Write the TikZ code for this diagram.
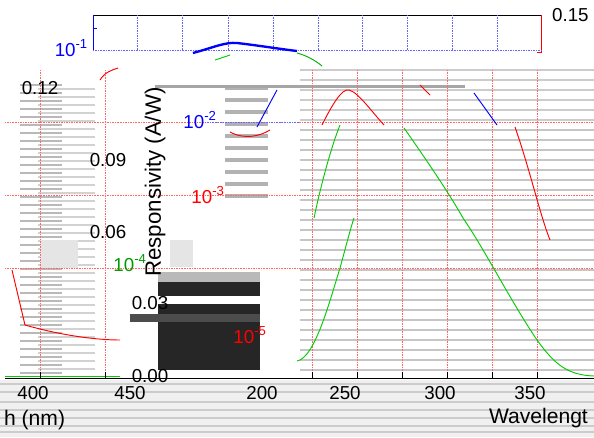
\documentclass[tikz,border=0pt]{standalone}
\usepackage{fontspec}
\setmainfont{Liberation Sans}
\usetikzlibrary{calc}

\begin{document}
\begin{tikzpicture}[x=0.03cm,y=-0.03cm,
	ticklab/.style={font=\fontsize{16}{18}\selectfont},
	bgrid/.style={blue!60,densely dotted},
	rgrid/.style={red!60,densely dotted},
	stripe/.style={gray!55,line width=1.3pt}]
	\useasboundingbox (0,0) rectangle (594,437);
	% glitch texture
	\fill[gray!12] (0,380) rectangle (594,437);
	\foreach \y in {384,392,402,410,418,426,432} \draw[gray!40,line width=1pt] (0,\y) -- (594,\y);
	\foreach \y in {85,93,...,375} \draw[stripe] (20,\y) -- (62,\y);
	\foreach \y in {89,97,...,375} \draw[gray!35,line width=1pt] (38,\y) -- (95,\y);
	\foreach \y in {88,100,...,200} \draw[gray!60,line width=4pt] (225,\y) -- (268,\y);
	\foreach \y in {130,140,...,370} \draw[gray!45,line width=1.2pt] (300,\y) -- (594,\y);
	\foreach \y in {70,80,...,120} \draw[gray!40,line width=1.2pt] (300,\y) -- (594,\y);
	\fill[gray!70] (155,85) rectangle (465,88);
	\fill[gray!20] (40,240) rectangle (78,268);
	\fill[gray!20] (170,240) rectangle (193,267);
	% black block
	\fill[black!85] (158,282) rectangle (260,370);
	\fill[gray!55] (158,272) rectangle (260,282);
	\fill[black!70] (130,314) rectangle (260,322);
	\fill[white] (158,296) rectangle (260,304);
	% top panel
	\draw[thick] (93,15) -- (541,15);
	\draw[blue,thick] (93,15) -- (93,50);
	\draw[blue] (93,28) -- (97,28);
	\draw[red,thick] (541,15) -- (541,52) -- (537,52);
	\draw[bgrid] (93,50) -- (541,50);
	\foreach \x in {137,182,228,273,318,362,407,452,497} \draw[bgrid] (\x,15) -- (\x,50);
	\node[blue,ticklab,left] at (92,48) {10\textsuperscript{-1}};
	\node[ticklab,right] at (548,15) {0.15};
	\draw[blue,line width=2pt] (193,53) .. controls (215,47) and (225,42) .. (237,43) .. controls (255,45) and (280,49) .. (297,51);
	\draw[green!70!black,thick] (297,53) .. controls (305,55) and (315,60) .. (322,66);
	% lower panel grid
	\foreach \y in {122,195,268} \draw[rgrid] (5,\y) -- (594,\y);
	\draw[bgrid] (205,122) -- (300,122);
	\foreach \x in {40,105,312,357,402,447,492,537} \draw[rgrid] (\x,70) -- (\x,378);
	% left axis labels
	\node[ticklab] at (40,88) {0.12};
	\node[ticklab] at (108,160) {0.09};
	\node[ticklab] at (108,232) {0.06};
	\node[ticklab] at (150,303) {0.03};
	\node[ticklab] at (150,376) {0.00};
	\node[font=\fontsize{19}{21}\selectfont,rotate=90] at (155,182) {Responsivity (A/W)};
	\node[blue,ticklab] at (200,120) {10\textsuperscript{-2}};
	\node[red,ticklab] at (208,195) {10\textsuperscript{-3}};
	\node[green!60!black,ticklab] at (130,263) {10\textsuperscript{-4}};
	\node[red,ticklab] at (250,335) {10\textsuperscript{-5}};
	% curves
	\draw[red,thick] (322,125) .. controls (332,105) and (342,88) .. (349,90) .. controls (358,92) and (372,112) .. (384,125);
	\draw[red,thick] (230,132) .. controls (245,140) and (260,136) .. (270,130);
	\draw[red,thick] (100,80) .. controls (105,72) and (112,70) .. (118,68);
	\draw[red,thick] (420,85) -- (430,95);
	\draw[blue,thick] (277,90) -- (257,127);
	\draw[blue,thick] (474,93) -- (497,125);
	\draw[red,thick] (515,127) .. controls (530,170) and (540,215) .. (550,240);
	\draw[red,thick] (12,270) -- (25,325) .. controls (60,335) and (95,340) .. (120,340);
	\draw[green!80!black,thick] (314,218) .. controls (322,180) and (332,145) .. (340,125);
	\draw[green!80!black,thick] (404,128) .. controls (430,165) and (450,195) .. (463,218);
	\draw[green!80!black,thick] (463,218) .. controls (485,250) and (510,300) .. (537,340) .. controls (555,365) and (568,375) .. (594,376);
	\draw[green!80!black,thick] (297,361) .. controls (315,358) and (330,300) .. (340,268) .. controls (345,250) and (350,230) .. (354,218);
	\draw[green!80!black,thick] (215,60) -- (230,55);
	\draw[green!80!black,thick] (5,376) -- (120,376);
	% bottom axis
	\draw[thick] (5,378) -- (594,378);
	\foreach \x in {40,105,312,357,402,447,492,537} \draw[thick] (\x,378) -- (\x,372);
	\node[ticklab] at (33,393) {400};
	\node[ticklab] at (130,393) {450};
	\node[ticklab] at (262,393) {200};
	\node[ticklab] at (345,393) {250};
	\node[ticklab] at (440,393) {300};
	\node[ticklab] at (530,393) {350};
	\node[font=\fontsize{18}{20}\selectfont,anchor=west] at (0,420) {h (nm)};
	\node[font=\fontsize{18}{20}\selectfont,anchor=east] at (592,418) {Wavelengt};
\end{tikzpicture}
\end{document}
